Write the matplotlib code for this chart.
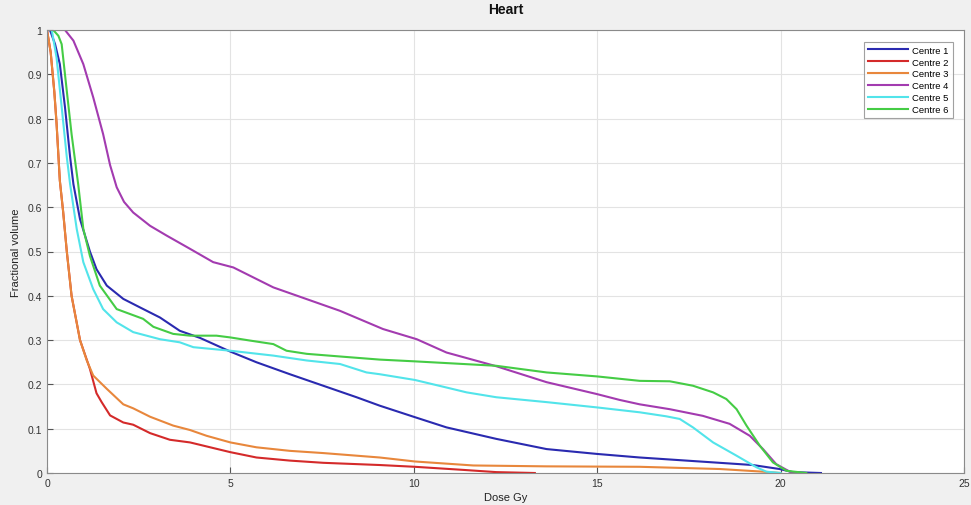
import matplotlib
matplotlib.use("Agg")
import matplotlib.pyplot as plt
from matplotlib.ticker import FuncFormatter

plt.rcParams['font.family'] = ['Liberation Sans', 'DejaVu Sans']

title = "Heart"
xlabel = "Dose Gy"
ylabel = "Fractional volume"
labels = ["Centre 1", "Centre 2", "Centre 3", "Centre 4", "Centre 5", "Centre 6"]
colors = ["#2a2ab0", "#d42a2a", "#e8873c", "#a33bb0", "#52e4ea", "#45cc45"]

c1_x = [0, 0.08, 0.22, 0.35, 0.49, 0.63, 0.72, 0.9, 1.17, 1.35, 1.63, 2.08, 2.53, 3.08, 3.62, 4.17, 5.0,
        5.71, 6.62, 7.53, 8.44, 9.07, 10.03, 10.89, 12.25, 13.62, 15.0, 16.16, 17.43, 19.24, 19.97, 20.33, 21.1]
c1_y = [1.0, 1.0, 0.968, 0.923, 0.826, 0.713, 0.652, 0.573, 0.5, 0.46, 0.423, 0.393, 0.374, 0.351, 0.321,
        0.305, 0.274, 0.25, 0.223, 0.197, 0.171, 0.152, 0.126, 0.103, 0.077, 0.054, 0.043, 0.035, 0.028,
        0.018, 0.009, 0.002, 0.0]

c2_x = [0, 0.1, 0.2, 0.26, 0.35, 0.44, 0.54, 0.67, 0.9, 1.17, 1.35, 1.49, 1.72, 2.08, 2.35, 2.81, 3.35,
        3.9, 4.35, 5.0, 5.71, 6.62, 7.53, 9.07, 10.03, 11.35, 12.25, 13.3]
c2_y = [1.0, 0.95, 0.86, 0.79, 0.66, 0.59, 0.5, 0.4, 0.3, 0.235, 0.18, 0.16, 0.13, 0.114, 0.109, 0.09,
        0.075, 0.069, 0.06, 0.047, 0.035, 0.028, 0.023, 0.018, 0.014, 0.007, 0.002, 0.0]

c3_x = [0, 0.1, 0.2, 0.26, 0.35, 0.44, 0.54, 0.67, 0.9, 1.08, 1.26, 1.63, 2.08, 2.35, 2.81, 3.44, 3.9,
        4.35, 5.0, 5.71, 6.62, 7.53, 9.07, 10.03, 11.62, 13.62, 16.16, 18.34, 19.52, 20.0]
c3_y = [1.0, 0.95, 0.86, 0.79, 0.66, 0.59, 0.5, 0.4, 0.3, 0.255, 0.22, 0.19, 0.155, 0.146, 0.127, 0.107,
        0.097, 0.084, 0.069, 0.058, 0.05, 0.045, 0.035, 0.026, 0.017, 0.015, 0.014, 0.009, 0.003, 0.0]

c4_x = [0, 0.49, 0.72, 0.99, 1.26, 1.53, 1.72, 1.9, 2.1, 2.35, 2.81, 3.26, 3.9, 4.53, 5.08, 6.17, 7.99, 9.16,
        10.08, 10.89, 12.25, 13.62, 15.0, 15.61, 16.16, 16.98, 17.88, 18.61, 19.16, 19.52, 19.88, 20.25, 20.4]
c4_y = [1.0, 1.0, 0.976, 0.923, 0.848, 0.765, 0.695, 0.645, 0.612, 0.588, 0.558, 0.536, 0.506, 0.476, 0.464,
        0.419, 0.366, 0.325, 0.302, 0.272, 0.241, 0.205, 0.178, 0.165, 0.155, 0.144, 0.129, 0.111, 0.084,
        0.054, 0.02, 0.003, 0.0]

c5_x = [0, 0.13, 0.26, 0.4, 0.54, 0.63, 0.81, 0.99, 1.26, 1.53, 1.9, 2.35, 3.08, 3.62, 3.99, 5.0, 6.17,
        7.08, 7.99, 8.71, 9.07, 10.03, 10.89, 11.44, 12.25, 13.62, 15.0, 16.16, 16.88, 17.25, 17.61, 18.16,
        18.8, 19.34, 19.61, 20.0]
c5_y = [1.0, 1.0, 0.938, 0.826, 0.713, 0.652, 0.551, 0.476, 0.415, 0.37, 0.34, 0.318, 0.302, 0.295,
        0.284, 0.276, 0.265, 0.254, 0.246, 0.227, 0.223, 0.21, 0.193, 0.182, 0.171, 0.16, 0.148, 0.137,
        0.128, 0.122, 0.103, 0.069, 0.039, 0.013, 0.003, 0.0]

c6_x = [0, 0.17, 0.31, 0.4, 0.54, 0.67, 0.85, 0.99, 1.17, 1.44, 1.9, 2.26, 2.62, 2.9, 3.44, 3.9, 4.62,
        5.0, 5.53, 6.17, 6.53, 7.08, 7.99, 9.07, 10.03, 12.25, 13.62, 15.0, 16.16, 16.98, 17.61, 18.16,
        18.52, 18.8, 19.07, 19.43, 19.79, 20.16, 20.7]
c6_y = [1.0, 1.0, 0.987, 0.968, 0.862, 0.765, 0.652, 0.551, 0.49, 0.423, 0.37, 0.359, 0.348, 0.33,
        0.314, 0.31, 0.31, 0.306, 0.299, 0.291, 0.276, 0.269, 0.263, 0.256, 0.252, 0.242, 0.227, 0.218,
        0.208, 0.207, 0.197, 0.182, 0.167, 0.144, 0.107, 0.062, 0.024, 0.005, 0.0]

xs = [c1_x, c2_x, c3_x, c4_x, c5_x, c6_x]
ys = [c1_y, c2_y, c3_y, c4_y, c5_y, c6_y]

x_ticks = [0, 5, 10, 15, 20, 25]
y_ticks = [0, 0.1, 0.2, 0.3, 0.4, 0.5, 0.6, 0.7, 0.8, 0.9, 1]

fig = plt.figure(figsize=(9.71, 5.06), dpi=100, facecolor="#f0f0f0")
ax = fig.add_axes([47 / 971, 32 / 506, 917 / 971, 443 / 506])
ax.set_facecolor("white")

for x, y, c, lab in zip(xs, ys, colors, labels):
    ax.plot(x, y, color=c, lw=1.5, label=lab, solid_joinstyle="round")

ax.set_xlim(0, 25)
ax.set_ylim(0, 1)
ax.set_xticks(x_ticks)
ax.set_yticks(y_ticks)
fmt = FuncFormatter(lambda v, p: "%g" % v)
ax.xaxis.set_major_formatter(fmt)
ax.yaxis.set_major_formatter(fmt)
ax.grid(True, color="#e3e3e3", lw=0.8)
ax.set_axisbelow(True)
ax.tick_params(direction="in", length=4, width=0.8, colors="#555555", labelsize=7.5,
               top=False, right=False, labelcolor="#333333")
for s in ax.spines.values():
    s.set_color("#8a8a8a")
    s.set_linewidth(0.8)

ax.set_title(title, fontsize=10, fontweight="bold", pad=12, color="#111111")
ax.set_xlabel(xlabel, fontsize=8, labelpad=3, color="#222222")
ax.set_ylabel(ylabel, fontsize=8, labelpad=5, color="#222222")

leg = ax.legend(loc="upper right", bbox_to_anchor=(0.988, 0.974), borderaxespad=0,
                fontsize=6.8, frameon=True, fancybox=False, handlelength=4.2,
                labelspacing=0.3, borderpad=0.45, handletextpad=0.5)
leg.get_frame().set_edgecolor("#8a8a8a")
leg.get_frame().set_linewidth(0.8)

fig.savefig("out.png", dpi=100, facecolor=fig.get_facecolor())
